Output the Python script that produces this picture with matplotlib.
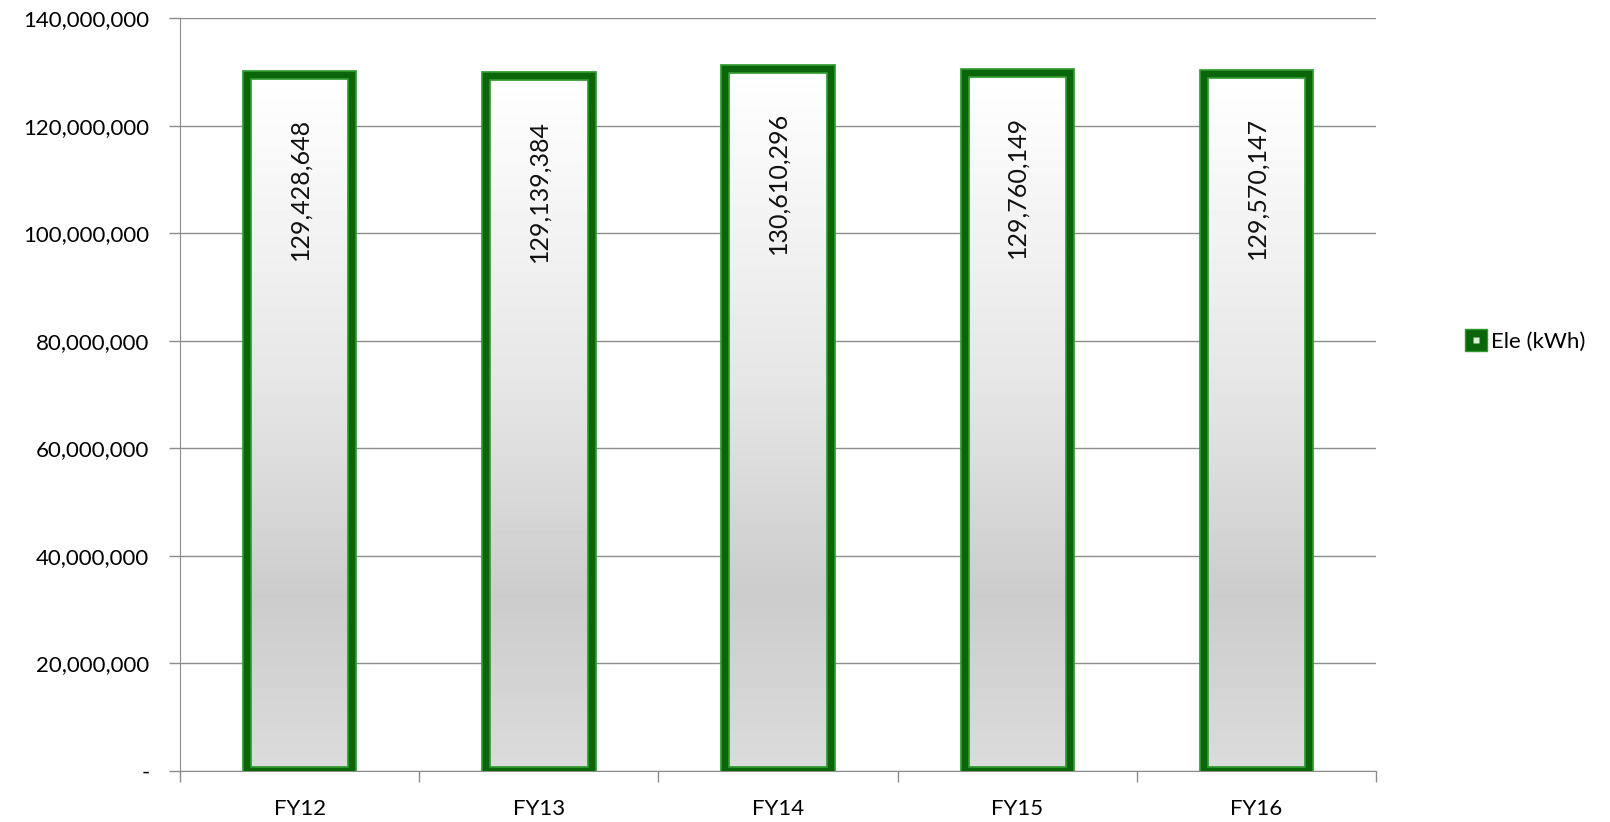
import numpy as np
import matplotlib.pyplot as plt
from matplotlib.patches import Rectangle
from matplotlib.lines import Line2D
from matplotlib.ticker import FuncFormatter, MultipleLocator

years = ["FY12", "FY13", "FY14", "FY15", "FY16"]
ele_kwh = [129428648, 129139384, 130610296, 129760149, 129570147]
series_name = "Ele (kWh)"

plt.rcParams['font.family'] = ['Lato', 'DejaVu Sans']

GREEN = '#0b650b'
GREEN_LIGHT = '#2e9a2e'
GRID = '#8c8c8c'

fig = plt.figure(figsize=(16.1, 8.22), dpi=100)
ax = fig.add_axes([0.1118, 0.062, 0.743, 0.916])

x = np.arange(len(years))
width = 0.44

# vertical gradient: white at the top -> grey, slightly lighter again at the base
stops = [0.0, 0.25, 0.55, 1.0]
shades = [0.86, 0.80, 0.90, 1.0]
pos = np.linspace(0, 1, 200)
grad = np.interp(pos, stops, shades)[:, None]

for xi, v in zip(x, ele_kwh):
    left = xi - width / 2
    im = ax.imshow(grad, cmap='gray', vmin=0, vmax=1, aspect='auto',
                   extent=(left, left + width, 0, v), origin='lower', zorder=2,
                   interpolation='bilinear')
    rect = Rectangle((left, 0), width, v, facecolor='none', edgecolor=GREEN_LIGHT,
                     linewidth=7, zorder=3)
    ax.add_patch(rect)
    ax.add_patch(Rectangle((left, 0), width, v, facecolor='none', edgecolor=GREEN,
                           linewidth=4.5, zorder=3))
    im.set_clip_path(rect)
    ax.annotate(f"{v:,}", xy=(xi, v), xytext=(0, -31), textcoords='offset points',
                rotation=90, ha='center', va='top', fontsize=18, color='#111111',
                zorder=4)

ax.set_xlim(-0.5, len(years) - 0.5)
ax.set_ylim(0, 140000000)
ax.yaxis.set_major_locator(MultipleLocator(20000000))
ax.yaxis.set_major_formatter(FuncFormatter(lambda val, p: '-' if val == 0 else f"{val:,.0f}"))
ax.grid(axis='y', color=GRID, linewidth=1, zorder=0)
ax.set_axisbelow(True)

ax.set_xticks(x)
ax.set_xticklabels(years, fontsize=16)
ax.set_xticks(np.arange(-0.5, len(years)), minor=True)
ax.tick_params(axis='x', which='major', length=0, pad=20)
ax.tick_params(axis='x', which='minor', length=8, color=GRID, width=1)
ax.tick_params(axis='y', length=8, color=GRID, width=1, pad=14, labelsize=16)

for side in ['top', 'right']:
    ax.spines[side].set_visible(False)
for side in ['left', 'bottom']:
    ax.spines[side].set_color(GRID)

outer = Line2D([], [], linestyle='none', marker='s', markersize=16,
               markerfacecolor=GREEN, markeredgecolor=GREEN_LIGHT, markeredgewidth=1)
inner = Line2D([], [], linestyle='none', marker='s', markersize=5,
               markerfacecolor='#d8f0d8', markeredgecolor='none')
fig.legend([(outer, inner)], [series_name], loc='center left', bbox_to_anchor=(0.899, 0.584),
           frameon=False, fontsize=16, handlelength=0.8, handletextpad=0.25)

plt.savefig('out.png', dpi=100)
